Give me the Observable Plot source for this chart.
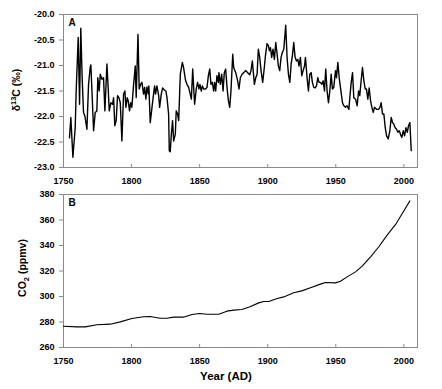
<!DOCTYPE html>
<html><head><meta charset="utf-8">
<script src="https://cdn.jsdelivr.net/npm/d3@7"></script>
<script src="https://cdn.jsdelivr.net/npm/@observablehq/plot@0.6"></script>
<style>body{margin:0;background:#fff;} #chart svg{display:block;}</style>
</head><body><div id="chart"></div>
<script>
// Panel A: tree-ring δ13C (‰)
const d13cYears = [1754.4,1755.4,1756.9,1758.6,1759.3,1760.8,1761.8,1762.7,1763.7,1764.7,1765.7,1767.2,1768.4,1769.6,1770.1,1771.1,1772.1,1773.3,1774.5,1775.2,1776.2,1777.0,1778.2,1779.4,1780.4,1781.9,1782.8,1783.6,1784.8,1786.0,1786.8,1787.7,1788.7,1789.7,1790.7,1791.7,1792.9,1794.1,1795.1,1795.8,1796.8,1797.5,1798.5,1799.3,1800.2,1801.5,1802.7,1803.4,1804.7,1805.6,1806.6,1807.6,1808.8,1809.6,1810.5,1811.3,1812.3,1812.7,1813.7,1815.0,1815.7,1816.9,1817.6,1818.6,1819.9,1820.6,1821.8,1822.8,1824.0,1825.2,1826.0,1827.2,1827.7,1828.4,1829.2,1830.1,1830.9,1832.1,1832.8,1833.8,1834.6,1835.8,1837.3,1838.2,1839.7,1840.7,1841.9,1843.1,1843.9,1844.9,1845.6,1846.3,1847.5,1848.5,1849.5,1850.2,1851.2,1852.0,1852.9,1854.2,1855.4,1856.4,1857.4,1858.3,1859.3,1860.3,1861.0,1861.8,1862.7,1863.7,1864.2,1865.2,1866.2,1867.2,1868.1,1869.1,1870.1,1871.1,1872.1,1873.0,1874.3,1875.0,1876.5,1877.9,1878.9,1879.9,1881.1,1882.4,1883.8,1885.3,1886.8,1887.7,1888.7,1890.2,1891.2,1892.2,1893.1,1894.1,1895.1,1896.3,1897.5,1898.3,1899.5,1900.5,1901.2,1902.0,1902.9,1903.9,1904.9,1905.9,1906.9,1907.8,1908.8,1909.8,1910.8,1911.8,1913.2,1914.2,1915.2,1916.2,1917.2,1918.1,1919.1,1920.1,1921.1,1922.1,1923.0,1924.0,1925.0,1926.0,1927.0,1927.7,1928.9,1929.9,1930.9,1931.9,1932.8,1933.8,1934.8,1935.8,1936.8,1937.7,1938.7,1939.7,1940.7,1941.7,1942.6,1943.6,1944.6,1945.6,1946.6,1947.5,1948.5,1949.8,1950.5,1951.5,1952.5,1953.4,1954.9,1955.9,1957.1,1958.3,1959.6,1960.3,1961.3,1962.3,1963.2,1964.5,1965.7,1966.7,1967.6,1968.6,1969.6,1970.6,1971.6,1972.5,1973.5,1974.5,1975.5,1976.5,1977.5,1978.4,1979.9,1981.4,1982.4,1983.3,1984.3,1985.3,1986.3,1987.3,1988.5,1989.7,1990.7,1991.7,1992.6,1993.6,1994.6,1995.6,1996.6,1997.5,1998.5,1999.5,2000.5,2001.5,2002.5,2003.4,2004.4,2005.4];
const d13cValues = [-22.42,-22.02,-22.80,-22.22,-21.50,-20.45,-21.76,-20.27,-21.24,-21.92,-21.99,-22.25,-21.37,-21.04,-20.99,-21.63,-22.28,-21.92,-21.89,-21.24,-21.50,-21.17,-21.27,-21.24,-21.89,-20.97,-21.43,-21.89,-21.73,-21.76,-21.63,-22.18,-22.08,-21.59,-21.63,-21.73,-22.48,-21.56,-21.50,-21.82,-21.63,-21.69,-21.89,-21.73,-21.82,-21.37,-21.01,-21.63,-20.39,-21.46,-21.37,-21.33,-21.56,-21.43,-21.66,-21.42,-21.56,-21.40,-22.12,-21.82,-21.66,-21.40,-21.56,-21.40,-21.59,-21.82,-21.56,-21.44,-21.48,-21.50,-21.63,-21.95,-22.67,-22.69,-22.35,-22.08,-22.48,-22.35,-21.89,-21.95,-22.08,-21.17,-20.94,-21.04,-21.30,-21.37,-21.43,-21.56,-21.66,-21.07,-21.43,-21.76,-21.46,-21.33,-21.46,-21.37,-21.50,-21.40,-21.46,-21.46,-21.43,-21.20,-21.07,-21.37,-21.33,-21.50,-21.33,-21.50,-21.20,-21.33,-21.14,-21.37,-21.17,-21.50,-21.14,-21.07,-21.43,-21.69,-21.82,-21.50,-20.78,-21.04,-21.14,-21.30,-21.46,-21.24,-21.17,-21.14,-21.10,-21.14,-21.18,-21.10,-20.91,-21.37,-21.24,-21.17,-20.68,-20.84,-21.10,-21.33,-21.04,-20.81,-20.57,-20.61,-20.71,-20.65,-20.84,-20.68,-20.88,-20.55,-20.78,-21.01,-21.10,-20.84,-20.74,-20.68,-20.21,-20.84,-21.17,-21.33,-20.97,-20.81,-20.55,-20.84,-20.91,-20.88,-21.01,-20.84,-21.20,-21.10,-21.01,-20.84,-21.24,-21.50,-21.17,-21.14,-21.33,-21.43,-21.44,-21.40,-21.24,-21.33,-21.33,-21.37,-21.30,-21.50,-21.07,-21.50,-21.73,-21.50,-21.17,-21.46,-21.43,-21.10,-21.24,-20.94,-21.24,-21.43,-21.73,-21.79,-21.82,-21.79,-21.86,-21.63,-21.33,-21.14,-21.63,-21.66,-21.79,-21.50,-21.59,-21.30,-21.04,-21.30,-21.46,-21.46,-21.66,-21.44,-21.69,-21.82,-21.92,-21.82,-21.86,-21.86,-21.82,-21.73,-21.95,-21.95,-22.22,-22.38,-22.44,-22.28,-22.02,-22.12,-22.15,-22.22,-22.25,-22.31,-22.28,-22.35,-22.41,-22.28,-22.38,-22.22,-22.31,-22.18,-22.12,-22.67];

// Panel B: atmospheric CO2 (ppmv)
const co2Years = [1750,1759.8,1766,1774.5,1784.3,1791.7,1800.2,1808.8,1813.7,1821,1826,1831,1838,1844.4,1850,1855.4,1864,1870,1875,1881,1887,1893.4,1897,1900.7,1907,1911.8,1919,1925,1931.4,1938.7,1942.4,1949.8,1953.4,1958.3,1964.5,1969.4,1975.5,1981.6,1987.7,1993.9,1998.8,2004.4];
const co2Values = [276.7,276.2,276.2,277.8,278.3,280.1,282.7,284.1,284.3,283.0,283.0,283.8,283.8,285.9,286.7,286.1,286.1,288.5,289.3,289.8,291.9,295.0,296.1,296.1,298.4,299.7,302.9,304.4,306.8,309.7,311.0,310.7,312.0,315.4,319.3,323.8,331.1,339.0,348.1,356.5,365.1,375.0];

const xTicks = [1750,1800,1850,1900,1950,2000];
const d13cTicks = [-23,-22.5,-22,-21.5,-21,-20.5,-20];
const co2Ticks = [260,280,300,320,340,360,380];
const panelLabels = ["A","B"];
const xLabel = "Year (AD)";

const font = "'Liberation Sans', Arial, sans-serif";
const gray = "#8a8a8a";
const common = {
  width: 442, marginLeft: 63, marginRight: 25,
  style: {fontFamily: font, fontSize: "9px", fontWeight: "bold", color: "#000", background: "#fff", overflow: "visible"}
};

const dataA = d13cYears.map((y, i) => ({year: y, value: d13cValues[i]}));
const dataB = co2Years.map((y, i) => ({year: y, value: co2Values[i]}));

function panel(data, yDomain, yTicks, yFmt, label, opts, lw) {
  return Plot.plot({
    ...common, ...opts,
    x: {domain: [1750, 2010]},
    y: {domain: yDomain},
    marks: [
      Plot.frame({stroke: gray}),
      Plot.axisY({ticks: yTicks, tickSize: 4, tickPadding: 5, tickFormat: yFmt, label: null, stroke: gray, fill: "#000"}),
      Plot.axisX({ticks: xTicks, tickSize: 0, tickPadding: 10, tickFormat: d => String(d), label: null, fill: "#000"}),
      Plot.ruleX(xTicks.slice(1), {y1: yDomain[0], y2: yDomain[0], insetTop: -3, stroke: gray}),
      Plot.line(data, {x: "year", y: "value", stroke: "#000", strokeWidth: lw}),
      Plot.text([label], {text: d => d, frameAnchor: "top-left", dx: 5, dy: 4, textAnchor: "start", lineAnchor: "top", fontSize: 10, fontWeight: "bold"})
    ]
  });
}

const plotA = panel(dataA, [-23, -20], d13cTicks, d => d.toFixed(1), panelLabels[0], {height: 188, marginTop: 14, marginBottom: 21}, 1.4);
const plotB = panel(dataB, [260, 380], co2Ticks, d => String(d), panelLabels[1], {height: 201, marginTop: 6, marginBottom: 42}, 1.1);

function yLabel(svg, cx, cy, parts) {
  const t = d3.select(svg).append("text")
    .attr("transform", `translate(${cx},${cy}) rotate(-90)`)
    .attr("text-anchor", "middle")
    .attr("font-family", font).attr("font-weight", "bold").attr("font-size", 10.5).attr("fill", "#000");
  parts.forEach(p => {
    const s = t.append("tspan").text(p.t);
    if (p.small) s.attr("font-size", 7.5);
    if (p.dy) s.attr("dy", p.dy);
  });
}
yLabel(plotA, 20, 90, [{t: "δ"}, {t: "13", small: true, dy: -4}, {t: "C (‰)", dy: 4}]);
yLabel(plotB, 26, 80, [{t: "CO"}, {t: "2", small: true, dy: 3}, {t: " (ppmv)", dy: -3}]);

d3.select(plotB).append("text")
  .attr("x", 226).attr("y", 188 + 0).attr("dy", "0.35em")
  .attr("transform", "translate(0,0)")
  .attr("text-anchor", "middle")
  .attr("font-family", font).attr("font-weight", "bold").attr("font-size", 11.5).attr("fill", "#000")
  .attr("y", 376 - 188)
  .text(xLabel);

document.getElementById("chart").append(plotA, plotB);
</script>
</body></html>
